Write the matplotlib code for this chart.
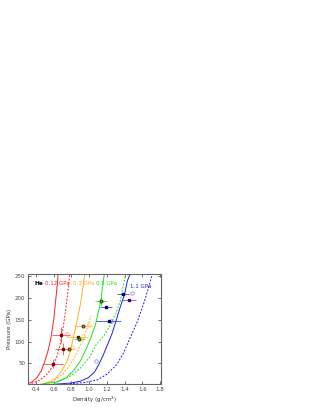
import numpy as np
import matplotlib
matplotlib.use('Agg')
import matplotlib.pyplot as plt

# Isotherm-like curves (density g/cm3, pressure GPa)
red_solid_x = [0.31, 0.36, 0.41, 0.46, 0.50, 0.54, 0.57, 0.60, 0.62, 0.64, 0.65]
red_solid_y = [3, 8, 17, 33, 55, 82, 110, 150, 190, 230, 255]
red_dash_x = [0.35, 0.44, 0.52, 0.58, 0.63, 0.67, 0.70, 0.73, 0.76, 0.78]
red_dash_y = [4, 11, 24, 40, 62, 90, 124, 165, 215, 255]
orange_solid_x = [0.45, 0.52, 0.58, 0.63, 0.69, 0.75, 0.79, 0.82, 0.86, 0.90, 0.93, 0.95]
orange_solid_y = [2, 5, 10, 17, 32, 55, 80, 108, 145, 185, 225, 255]
orange_dash_x = [0.50, 0.60, 0.70, 0.79, 0.87, 0.93, 0.98, 1.02]
orange_dash_y = [3, 10, 25, 48, 78, 105, 132, 160]
green_solid_x = [0.48, 0.63, 0.74, 0.82, 0.90, 0.97, 1.02, 1.07, 1.10, 1.13, 1.15, 1.17]
green_solid_y = [3, 7, 17, 32, 55, 85, 110, 139, 165, 193, 225, 255]
green_dash_x = [0.60, 0.67, 0.80, 0.90, 1.00, 1.08, 1.17, 1.24, 1.30, 1.35, 1.38, 1.41]
green_dash_y = [4, 9, 22, 39, 63, 93, 115, 139, 165, 193, 225, 255]
blue_solid_x = [0.62, 0.80, 0.90, 0.99, 1.06, 1.11, 1.16, 1.21, 1.26, 1.30, 1.35, 1.40, 1.43, 1.46]
blue_solid_y = [2, 5, 9, 17, 30, 48, 70, 95, 120, 146, 180, 210, 240, 255]
blue_dash_x = [0.78, 0.95, 1.09, 1.20, 1.31, 1.39, 1.46, 1.54, 1.61, 1.67, 1.71]
blue_dash_y = [3, 6, 12, 25, 47, 75, 108, 145, 185, 225, 255]

# Measured points with error bars
red_pts_x = [0.59, 0.68, 0.71]
red_pts_y = [49, 116, 84]
red_pts_xe = [0.11, 0.10, 0.10]
red_pts_ye = [10, 18, 14]
dred_pts_x = [0.87]
dred_pts_y = [111]
dred_pts_xe = [0.12]
orange_pts_x = [0.77, 0.93]
orange_pts_y = [84, 137]
orange_pts_xe = [0.07, 0.10]
green_pts_x = [0.89, 1.13]
green_pts_y = [107, 193]
green_pts_xe = [0.06, 0.07]
green_pts_ye = [6, 10]
blue_pts_x = [1.19, 1.22, 1.38]
blue_pts_y = [180, 147, 209]
blue_pts_xe = [0.07, 0.14, 0.07]
purple_pts_x = [1.45]
purple_pts_y = [196]
purple_pts_xe = [0.08]

# Open circles
red_open_x = [0.75]
red_open_y = [117]
orange_open_x = [0.81, 0.93, 1.00]
orange_open_y = [87, 112, 139]
blue_open_x = [1.08, 1.25, 1.48]
blue_open_y = [55, 148, 212]

labels = ['0.12 GPa', '0.3 GPa', '0.5 GPa', '1.1 GPa']
label_x = [0.50, 0.82, 1.08, 1.46]
label_y = [233, 233, 233, 228]

RED = '#ff2020'
ORANGE = '#ffb020'
GREEN = '#20e020'
BLUE = '#2020e0'
PURPLE = '#9020c0'
colors = [RED, ORANGE, GREEN, BLUE]

fig = plt.figure(figsize=(3.14, 4.07), dpi=100)
ax = fig.add_axes([0.089, 0.057, 0.424, 0.269])

lw = 0.7
ax.plot(red_solid_x, red_solid_y, '-', color=RED, lw=lw)
ax.plot(red_dash_x, red_dash_y, '--', color=RED, lw=lw, dashes=(2, 1.5))
ax.plot(orange_solid_x, orange_solid_y, '-', color=ORANGE, lw=lw)
ax.plot(orange_dash_x, orange_dash_y, '--', color=ORANGE, lw=lw, dashes=(2, 1.5))
ax.plot(green_solid_x, green_solid_y, '-', color=GREEN, lw=lw)
ax.plot(green_dash_x, green_dash_y, '--', color=GREEN, lw=lw, dashes=(2, 1.5))
ax.plot(blue_solid_x, blue_solid_y, '-', color=BLUE, lw=lw)
ax.plot(blue_dash_x, blue_dash_y, '--', color=BLUE, lw=lw, dashes=(2, 1.5))

ms = 1.9
ax.errorbar(red_pts_x, red_pts_y, xerr=red_pts_xe, yerr=red_pts_ye, fmt='s',
            color=RED, mfc='#d01010', mec='#800000', ms=ms, lw=0.5, capsize=0)
ax.errorbar(dred_pts_x, dred_pts_y, xerr=dred_pts_xe, fmt='s',
            color=ORANGE, mfc='#c03010', mec='#600000', ms=ms, lw=0.5, capsize=0)
ax.errorbar(orange_pts_x, orange_pts_y, xerr=orange_pts_xe, fmt='o',
            color=ORANGE, mfc='#e0a000', mec='#704000', ms=ms, lw=0.5, capsize=0)
ax.errorbar(green_pts_x, green_pts_y, xerr=green_pts_xe, yerr=green_pts_ye, fmt='o',
            color=GREEN, mfc='#80c020', mec='#306000', ms=ms, lw=0.5, capsize=0)
ax.errorbar(blue_pts_x, blue_pts_y, xerr=blue_pts_xe, fmt='s',
            color=BLUE, mfc='#0000a0', mec='#000060', ms=ms, lw=0.5, capsize=0)
ax.errorbar(purple_pts_x, purple_pts_y, xerr=purple_pts_xe, fmt='s',
            color=PURPLE, mfc='#8000b0', mec='#400060', ms=ms, lw=0.5, capsize=0)

ax.plot(red_open_x, red_open_y, 'o', mfc='none', mec='#ff8080', ms=2.5, mew=0.5)
ax.plot(orange_open_x, orange_open_y, 'o', mfc='none', mec='#ffc060', ms=2.5, mew=0.5)
ax.plot(blue_open_x, blue_open_y, 'o', mfc='none', mec='#8080ff', ms=2.5, mew=0.5)

for lab, lx, ly, c in zip(labels, label_x, label_y, colors):
    ax.text(lx, ly, lab, color=c, fontsize=4, va='center', ha='left')
ax.text(0.05, 0.92, 'He', transform=ax.transAxes, fontsize=4.2,
        fontweight='bold', va='center', ha='left')

ax.set_xlim(0.31, 1.81)
ax.set_ylim(3, 255)
ax.set_xticks(np.arange(0.4, 1.81, 0.2))
ax.set_xticklabels(['0.4', '0.6', '0.8', '1.0', '1.2', '1.4', '1.6', '1.8'])
ax.set_yticks([50, 100, 150, 200, 250])
ax.tick_params(direction='in', top=True, right=True, length=2.5, width=0.6,
               labelsize=4, colors='#555555', labelcolor='#444444', pad=2)
for s in ax.spines.values():
    s.set_color('#666666')
    s.set_linewidth(0.8)
ax.set_xlabel('Density (g/cm$^3$)', fontsize=4, color='#333333', labelpad=2)
ax.set_ylabel('Pressure (GPa)', fontsize=4, color='#333333', labelpad=2)

fig.savefig('out.png', dpi=100)
